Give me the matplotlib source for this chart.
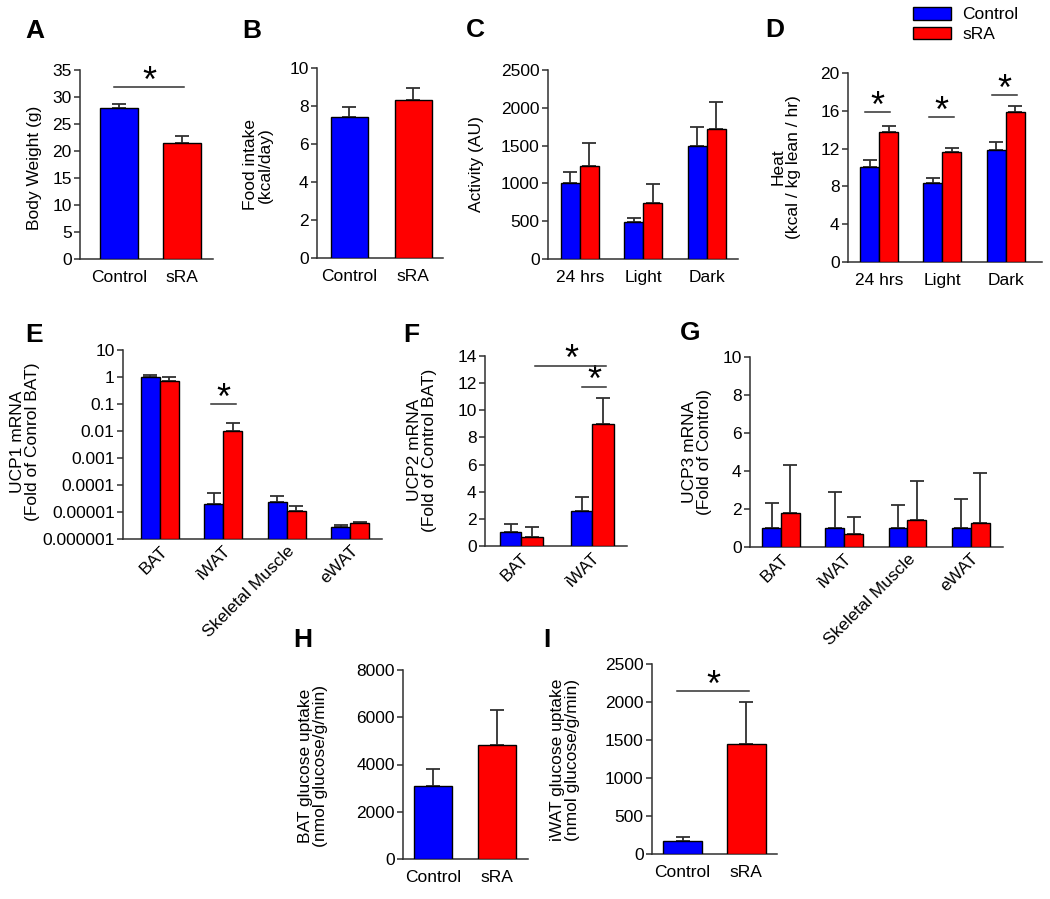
import numpy as np
import matplotlib
matplotlib.use('Agg')
import matplotlib.pyplot as plt
from matplotlib.patches import Patch

plt.rcParams['font.family'] = ['Liberation Sans', 'DejaVu Sans']

# ---------------- data ----------------
groups2 = ['Control', 'sRA']
bw_mean = [28.0, 21.5]
bw_err = [0.7, 1.2]
food_mean = [7.4, 8.3]
food_err = [0.55, 0.65]

periods = ['24 hrs', 'Light', 'Dark']
act_ctrl = [1000, 490, 1500]
act_ctrl_err = [150, 55, 245]
act_sra = [1230, 740, 1720]
act_sra_err = [310, 255, 360]

heat_ctrl = [10.1, 8.4, 11.9]
heat_ctrl_err = [0.7, 0.45, 0.8]
heat_sra = [13.8, 11.6, 15.9]
heat_sra_err = [0.6, 0.5, 0.6]

tissues4 = ['BAT', 'iWAT', 'Skeletal Muscle', 'eWAT']
ucp1_ctrl = [1.0, 2.0e-5, 2.3e-5, 2.8e-6]
ucp1_ctrl_err = [0.15, 3.0e-5, 1.7e-5, 0.5e-6]
ucp1_sra = [0.7, 0.01, 1.05e-5, 3.9e-6]
ucp1_sra_err = [0.3, 0.01, 0.55e-5, 0.3e-6]

tissues2 = ['BAT', 'iWAT']
ucp2_ctrl = [1.0, 2.55]
ucp2_ctrl_err = [0.65, 1.05]
ucp2_sra = [0.7, 9.0]
ucp2_sra_err = [0.7, 1.9]

ucp3_ctrl = [1.0, 1.0, 1.0, 1.0]
ucp3_ctrl_err = [1.3, 1.9, 1.2, 1.55]
ucp3_sra = [1.8, 0.7, 1.4, 1.25]
ucp3_sra_err = [2.5, 0.9, 2.1, 2.65]

bat_glu = [3100, 4820]
bat_glu_err = [700, 1480]
iwat_glu = [165, 1450]
iwat_glu_err = [55, 550]

# ---------------- style ----------------
W, H = 1050, 899
fig = plt.figure(figsize=(W / 100, H / 100), dpi=100)
BLUE = '#0000FF'
RED = '#FF0000'
DARK = '#303030'
FS = 12.5


def make_ax(l, t, r, b):
    ax = fig.add_axes([l / W, 1 - b / H, (r - l) / W, (b - t) / H])
    ax.spines[['top', 'right']].set_visible(False)
    for s in ['left', 'bottom']:
        ax.spines[s].set_color(DARK)
        ax.spines[s].set_linewidth(1.1)
    ax.tick_params(axis='y', direction='out', length=4, width=1.1, color=DARK,
                   labelsize=FS, pad=2)
    ax.tick_params(axis='x', length=0, labelsize=FS, pad=8)
    return ax


def bars(ax, x, vals, errs, color, width, bottom=0):
    vals = np.asarray(vals, dtype=float)
    ax.bar(x, vals - bottom, width, bottom=bottom, color=color,
           edgecolor='black', linewidth=1.0, zorder=3)
    ax.errorbar(x, vals, yerr=[np.zeros(len(vals)), errs], fmt='none',
                ecolor=DARK, elinewidth=1.3, capsize=5, capthick=1.3, zorder=2)


def sig(ax, x0, x1, y):
    ax.plot([x0, x1], [y, y], color=DARK, lw=1.1, zorder=4, clip_on=False)
    ax.annotate('*', ((x0 + x1) / 2, y), xytext=(0, -3.5), textcoords='offset points',
                ha='center', va='baseline', fontsize=26, annotation_clip=False)


def ylabel(x, y, text):
    fig.text(x / W, 1 - y / H, text, rotation=90, ha='center', va='center',
             multialignment='center', fontsize=FS, linespacing=1.0)


def letter(x, y, s):
    fig.text(x / W, 1 - y / H, s, fontsize=19, fontweight='bold',
             ha='left', va='baseline')


def rot_labels(ax, x, labels):
    ax.set_xticks(x)
    ax.set_xticklabels(labels, rotation=45, ha='right', va='top',
                       rotation_mode='anchor')
    ax.tick_params(axis='x', pad=3)


# ---------------- A ----------------
ax = make_ax(80, 70, 213, 259)
x = np.arange(2)
bars(ax, x, bw_mean, bw_err, [BLUE, RED], 0.6)
ax.set_xlim(-0.62, 1.49)
ax.set_ylim(0, 35)
ax.set_yticks(np.arange(0, 36, 5))
ax.set_xticks(x, groups2)
sig(ax, -0.08, 1.03, 31.9)
ylabel(35, 168, 'Body Weight (g)')
letter(25, 38, 'A')

# ---------------- B ----------------
ax = make_ax(317, 68, 443, 258)
bars(ax, x, food_mean, food_err, [BLUE, RED], 0.58)
ax.set_xlim(-0.51, 1.47)
ax.set_ylim(0, 10)
ax.set_yticks(np.arange(0, 11, 2))
ax.set_xticks(x, groups2)
ylabel(258, 165, 'Food intake\n(kcal/day)')
letter(242, 38, 'B')

# ---------------- C ----------------
ax = make_ax(548, 70, 738, 259)
x3 = np.arange(3)
bars(ax, x3 - 0.15, act_ctrl, act_ctrl_err, BLUE, 0.3)
bars(ax, x3 + 0.15, act_sra, act_sra_err, RED, 0.3)
ax.set_xlim(-0.5, 2.49)
ax.set_ylim(0, 2500)
ax.set_yticks(np.arange(0, 2501, 500))
ax.set_xticks(x3, periods)
ylabel(477, 164, 'Activity (AU)')
letter(466, 37, 'C')

# ---------------- D ----------------
ax = make_ax(848, 73, 1042, 262)
bars(ax, x3 - 0.15, heat_ctrl, heat_ctrl_err, BLUE, 0.3)
bars(ax, x3 + 0.15, heat_sra, heat_sra_err, RED, 0.3)
ax.set_xlim(-0.49, 2.57)
ax.set_ylim(0, 20)
ax.set_yticks(np.arange(0, 21, 4))
ax.set_xticks(x3, periods)
for xi, yl in zip(x3, [15.9, 15.3, 17.7]):
    sig(ax, xi - 0.22, xi + 0.18, yl)
ylabel(786, 167, 'Heat\n(kcal / kg lean / hr)')
letter(765, 37, 'D')
fig.legend([Patch(facecolor=BLUE, edgecolor='black'),
            Patch(facecolor=RED, edgecolor='black')], groups2,
           loc='upper left', bbox_to_anchor=(913 / W, 1 - 7 / H),
           frameon=False, fontsize=FS, handlelength=2.2, handleheight=0.75,
           handletextpad=0.65, labelspacing=0.25, borderpad=0, borderaxespad=0)

# ---------------- E ----------------
ax = make_ax(123, 350, 382, 539)
x4 = np.arange(4)
ax.set_yscale('log')
low = 1e-6
bars(ax, x4 - 0.15, ucp1_ctrl, ucp1_ctrl_err, BLUE, 0.3, bottom=low)
bars(ax, x4 + 0.15, ucp1_sra, ucp1_sra_err, RED, 0.3, bottom=low)
ax.set_ylim(low, 10)
ax.set_xlim(-0.58, 3.5)
yt = [1e-6, 1e-5, 1e-4, 1e-3, 1e-2, 1e-1, 1, 10]
ax.set_yticks(yt, ['0.000001', '0.00001', '0.0001', '0.001', '0.01', '0.1', '1', '10'])
ax.yaxis.set_minor_locator(matplotlib.ticker.NullLocator())
rot_labels(ax, x4, tissues4)
sig(ax, 1 - 0.19, 1 + 0.2, 0.1)
ylabel(25, 442, 'UCP1 mRNA\n(Fold of Conrol BAT)')
letter(25, 342, 'E')

# ---------------- F ----------------
ax = make_ax(485, 356, 627, 546)
x2 = np.arange(2)
bars(ax, x2 - 0.15, ucp2_ctrl, ucp2_ctrl_err, BLUE, 0.3)
bars(ax, x2 + 0.15, ucp2_sra, ucp2_sra_err, RED, 0.3)
ax.set_xlim(-0.51, 1.49)
ax.set_ylim(0, 14)
ax.set_yticks(np.arange(0, 15, 2))
rot_labels(ax, x2, tissues2)
sig(ax, 0.2, 1.2, 13.3)
sig(ax, 0.85, 1.2, 11.75)
ylabel(422, 450, 'UCP2 mRNA\n(Fold of Control BAT)')
letter(403, 342, 'F')

# ---------------- G ----------------
ax = make_ax(750, 357, 1003, 547)
bars(ax, x4 - 0.15, ucp3_ctrl, ucp3_ctrl_err, BLUE, 0.3)
bars(ax, x4 + 0.15, ucp3_sra, ucp3_sra_err, RED, 0.3)
ax.set_xlim(-0.49, 3.51)
ax.set_ylim(0, 10)
ax.set_yticks(np.arange(0, 11, 2))
rot_labels(ax, x4, tissues4)
ylabel(697, 452, 'UCP3 mRNA\n(Fold of Control)')
letter(680, 340, 'G')

# ---------------- H ----------------
ax = make_ax(403, 670, 528, 859)
bars(ax, x2, bat_glu, bat_glu_err, [BLUE, RED], 0.6)
ax.set_xlim(-0.48, 1.49)
ax.set_ylim(0, 8000)
ax.set_yticks(np.arange(0, 8001, 2000))
ax.set_xticks(x2, groups2)
ylabel(313, 766, 'BAT glucose uptake\n(nmol glucose/g/min)')
letter(293, 647, 'H')

# ---------------- I ----------------
ax = make_ax(652, 664, 777, 854)
bars(ax, x2, iwat_glu, iwat_glu_err, [BLUE, RED], 0.6)
ax.set_xlim(-0.48, 1.48)
ax.set_ylim(0, 2500)
ax.set_yticks(np.arange(0, 2501, 500))
ax.set_xticks(x2, groups2)
sig(ax, -0.09, 1.04, 2145)
ylabel(565, 760, 'iWAT glucose uptake\n(nmol glucose/g/min)')
letter(543, 647, 'I')

fig.savefig('out.png', dpi=100)
